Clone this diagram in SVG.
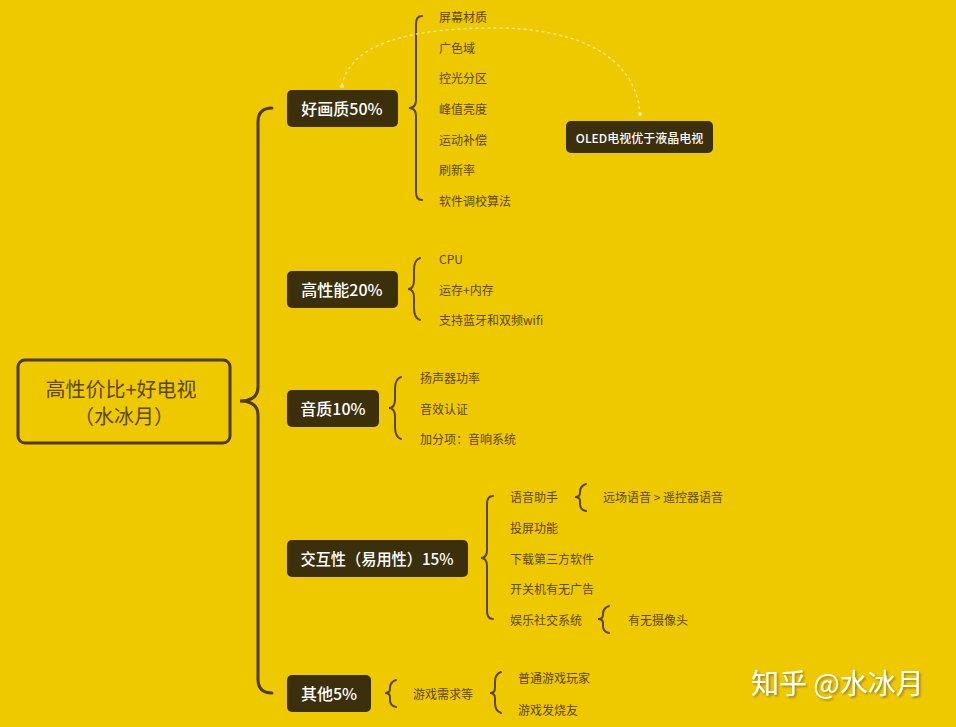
<svg xmlns="http://www.w3.org/2000/svg" width="956" height="727" viewBox="0 0 956 727">
<style>
.t{font-family:"Noto Sans CJK SC","Liberation Sans",sans-serif;font-size:12px;fill:#5c4712;dominant-baseline:central}
.n{font-family:"Noto Sans CJK SC","Liberation Sans",sans-serif;font-size:16px;font-weight:500;fill:#ffffff;dominant-baseline:central;text-anchor:middle}
.box{fill:#3b2f0c}
.br{fill:none;stroke:#5a4410;stroke-width:2;stroke-linecap:round}
.mb{fill:none;stroke:#4e3b10;stroke-width:3;stroke-linecap:round}
</style>
<defs>
<filter id="sh" x="-10%" y="-30%" width="120%" height="160%">
<feDropShadow dx="1.5" dy="1.5" stdDeviation="0.8" flood-color="#7a5f00" flood-opacity="0.7"/>
</filter>
</defs>
<rect width="956" height="727" fill="#efc900"/>
<g id="connectors">
<path class="mb" d="M272,108 Q258,108 258,122 L258,387 Q258,401 240,401 Q258,401 258,415 L258,679 Q258,693 272,693"/>
<path class="br" d="M422,16 Q416,16 416,24 L416,100 Q416,108 409,108 Q416,108 416,116 L416,192 Q416,200 422,200"/>
<path class="br" d="M420,258 Q414,260 414,270 L414,280 Q414,289 408,289 Q414,289 414,298 L414,308 Q414,318 420,320"/>
<path class="br" d="M401,377 Q395,379 395,389 L395,399 Q395,408 389,408 Q395,408 395,417 L395,427 Q395,437 401,439"/>
<path class="br" d="M493,496 Q487,496 487,504 L487,550 Q487,558 481,558 Q487,558 487,566 L487,611 Q487,619 493,619"/>
<path class="br" d="M586,484 Q580,486 580,492 L580,493 Q580,497 575,497 Q580,497 580,501 L580,504 Q580,510 586,511"/>
<path class="br" d="M609,606 Q603,608 603,614 L603,615 Q603,619 598,619 Q603,619 603,623 L603,626 Q603,632 609,633"/>
<path class="br" d="M396,680 Q390,682 390,688 L390,689 Q390,693 385,693 Q390,693 390,697 L390,700 Q390,706 396,707"/>
<path class="br" d="M501,672 Q495,674 495,682 L495,688 Q495,693 490,693 Q495,693 495,698 L495,703 Q495,711 501,713"/>
<path d="M342,86 C350,40 420,28 495,28 C575,28 636,55 640,114" fill="none" stroke="#f7e79a" stroke-width="1.3" stroke-dasharray="3,3"/>
<circle cx="342" cy="86" r="2" fill="#f7e79a"/>
<circle cx="640" cy="114" r="2" fill="#f7e79a"/>
</g>
<g id="root">
<rect x="18" y="360" width="212" height="83" rx="7" fill="none" stroke="#4e3b10" stroke-width="3"/>
<text x="121" y="388" style="font-family:'Noto Sans CJK SC','Liberation Sans',sans-serif;font-size:20px;fill:#5c4712;dominant-baseline:central;text-anchor:middle">高性价比+好电视</text>
<text x="124" y="415" style="font-family:'Noto Sans CJK SC','Liberation Sans',sans-serif;font-size:20px;fill:#5c4712;dominant-baseline:central;text-anchor:middle">（水冰月）</text>
</g>
<g id="n1">
<rect class="box" x="287" y="90" width="111" height="37" rx="5"/>
<text class="n" x="342" y="108">好画质50%</text>
</g>
<g id="n1-items">
<text class="t" x="439" y="16">屏幕材质</text>
<text class="t" x="439" y="47">广色域</text>
<text class="t" x="439" y="77">控光分区</text>
<text class="t" x="439" y="108">峰值亮度</text>
<text class="t" x="439" y="139">运动补偿</text>
<text class="t" x="439" y="169">刷新率</text>
<text class="t" x="439" y="200">软件调校算法</text>
</g>
<g id="oled">
<rect class="box" x="566" y="121" width="147" height="32" rx="5"/>
<text x="639.5" y="137" style="font-family:'Noto Sans CJK SC','Liberation Sans',sans-serif;font-size:12px;font-weight:500;fill:#ffffff;dominant-baseline:central;text-anchor:middle">OLED电视优于液晶电视</text>
</g>
<g id="n2">
<rect class="box" x="287" y="271" width="111" height="37" rx="5"/>
<text class="n" x="342" y="289">高性能20%</text>
</g>
<g id="n2-items">
<text class="t" x="439" y="258">CPU</text>
<text class="t" x="439" y="289">运存+内存</text>
<text class="t" x="439" y="319">支持蓝牙和双频wifi</text>
</g>
<g id="n3">
<rect class="box" x="287" y="390" width="92" height="37" rx="5"/>
<text class="n" x="333" y="408">音质10%</text>
</g>
<g id="n3-items">
<text class="t" x="420" y="377">扬声器功率</text>
<text class="t" x="420" y="408">音效认证</text>
<text class="t" x="420" y="438">加分项：音响系统</text>
</g>
<g id="n4">
<rect class="box" x="287" y="540" width="181" height="37" rx="5"/>
<text class="n" x="377" y="558" textLength="153" lengthAdjust="spacingAndGlyphs">交互性（易用性）15%</text>
</g>
<g id="n4-items">
<text class="t" x="510" y="496">语音助手</text>
<text class="t" x="603" y="496">远场语音 &gt; 遥控器语音</text>
<text class="t" x="510" y="527">投屏功能</text>
<text class="t" x="510" y="558">下载第三方软件</text>
<text class="t" x="510" y="588">开关机有无广告</text>
<text class="t" x="510" y="619">娱乐社交系统</text>
<text class="t" x="628" y="619">有无摄像头</text>
</g>
<g id="n5">
<rect class="box" x="287" y="675" width="84" height="37" rx="5"/>
<text class="n" x="329" y="693">其他5%</text>
</g>
<g id="n5-items">
<text class="t" x="413" y="693">游戏需求等</text>
<text class="t" x="518" y="677">普通游戏玩家</text>
<text class="t" x="518" y="709">游戏发烧友</text>
</g>
<g id="watermark">
<text x="751" y="694" filter="url(#sh)" style="font-family:'Noto Sans CJK SC','Liberation Sans',sans-serif;font-size:28px;fill:#ffffff">知乎 @水冰月</text>
</g>
</svg>
